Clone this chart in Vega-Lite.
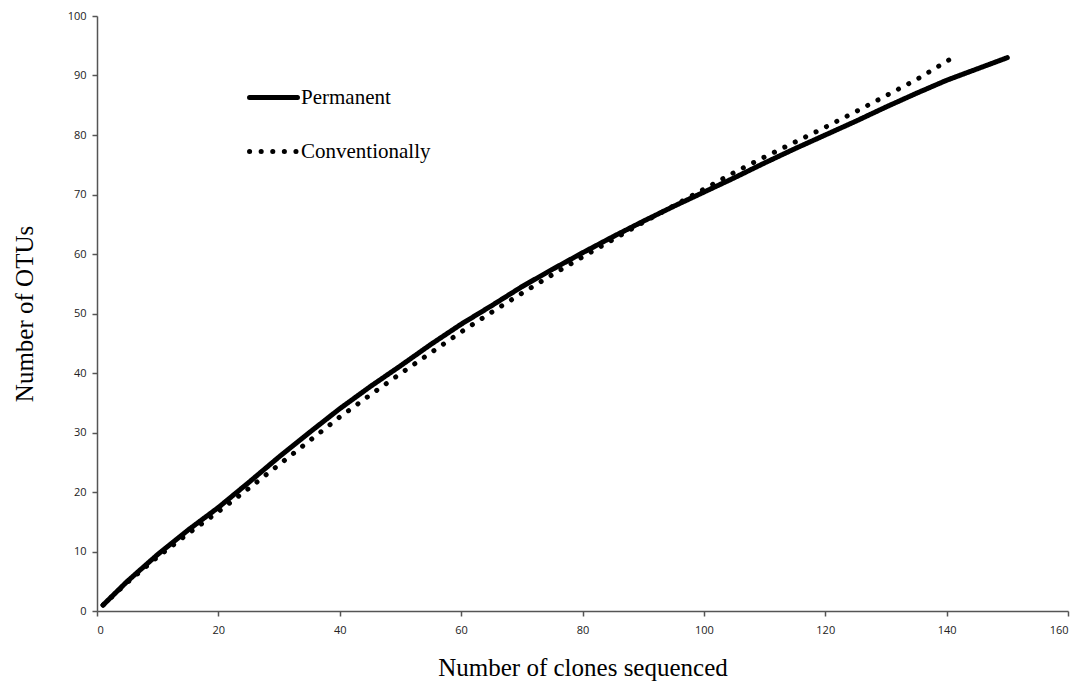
{
  "$schema": "https://vega.github.io/schema/vega-lite/v6.json",
  "width": 971,
  "height": 595,
  "autosize": {"type": "none"},
  "padding": {"left": 97, "top": 16, "right": 13, "bottom": 79},
  "background": "white",
  "config": {"view": {"stroke": null}},
  "data": {"values": [
    {"clones": 1, "otus": 1, "series": "Permanent"},
    {"clones": 5, "otus": 5, "series": "Permanent"},
    {"clones": 10, "otus": 9.5, "series": "Permanent"},
    {"clones": 15, "otus": 13.6, "series": "Permanent"},
    {"clones": 20, "otus": 17.4, "series": "Permanent"},
    {"clones": 25, "otus": 21.6, "series": "Permanent"},
    {"clones": 30, "otus": 25.9, "series": "Permanent"},
    {"clones": 35, "otus": 30, "series": "Permanent"},
    {"clones": 40, "otus": 34, "series": "Permanent"},
    {"clones": 45, "otus": 37.7, "series": "Permanent"},
    {"clones": 50, "otus": 41.2, "series": "Permanent"},
    {"clones": 55, "otus": 44.8, "series": "Permanent"},
    {"clones": 60, "otus": 48.2, "series": "Permanent"},
    {"clones": 65, "otus": 51.3, "series": "Permanent"},
    {"clones": 70, "otus": 54.5, "series": "Permanent"},
    {"clones": 75, "otus": 57.4, "series": "Permanent"},
    {"clones": 80, "otus": 60.2, "series": "Permanent"},
    {"clones": 85, "otus": 62.9, "series": "Permanent"},
    {"clones": 90, "otus": 65.5, "series": "Permanent"},
    {"clones": 95, "otus": 68, "series": "Permanent"},
    {"clones": 100, "otus": 70.4, "series": "Permanent"},
    {"clones": 105, "otus": 72.8, "series": "Permanent"},
    {"clones": 110, "otus": 75.3, "series": "Permanent"},
    {"clones": 115, "otus": 77.7, "series": "Permanent"},
    {"clones": 120, "otus": 80, "series": "Permanent"},
    {"clones": 125, "otus": 82.3, "series": "Permanent"},
    {"clones": 130, "otus": 84.7, "series": "Permanent"},
    {"clones": 135, "otus": 87, "series": "Permanent"},
    {"clones": 140, "otus": 89.2, "series": "Permanent"},
    {"clones": 145, "otus": 91.1, "series": "Permanent"},
    {"clones": 150, "otus": 93, "series": "Permanent"},
    {"clones": 1, "otus": 1, "series": "Conventionally"},
    {"clones": 5, "otus": 4.8, "series": "Conventionally"},
    {"clones": 10, "otus": 9.1, "series": "Conventionally"},
    {"clones": 15, "otus": 13, "series": "Conventionally"},
    {"clones": 20, "otus": 16.7, "series": "Conventionally"},
    {"clones": 25, "otus": 20.6, "series": "Conventionally"},
    {"clones": 30, "otus": 24.6, "series": "Conventionally"},
    {"clones": 35, "otus": 28.6, "series": "Conventionally"},
    {"clones": 40, "otus": 32.6, "series": "Conventionally"},
    {"clones": 45, "otus": 36.3, "series": "Conventionally"},
    {"clones": 50, "otus": 39.9, "series": "Conventionally"},
    {"clones": 55, "otus": 43.4, "series": "Conventionally"},
    {"clones": 60, "otus": 46.9, "series": "Conventionally"},
    {"clones": 65, "otus": 50.2, "series": "Conventionally"},
    {"clones": 70, "otus": 53.4, "series": "Conventionally"},
    {"clones": 75, "otus": 56.5, "series": "Conventionally"},
    {"clones": 80, "otus": 59.5, "series": "Conventionally"},
    {"clones": 85, "otus": 62.4, "series": "Conventionally"},
    {"clones": 90, "otus": 65.3, "series": "Conventionally"},
    {"clones": 95, "otus": 68.1, "series": "Conventionally"},
    {"clones": 100, "otus": 70.9, "series": "Conventionally"},
    {"clones": 105, "otus": 73.7, "series": "Conventionally"},
    {"clones": 110, "otus": 76.3, "series": "Conventionally"},
    {"clones": 115, "otus": 78.8, "series": "Conventionally"},
    {"clones": 120, "otus": 81.3, "series": "Conventionally"},
    {"clones": 125, "otus": 83.9, "series": "Conventionally"},
    {"clones": 130, "otus": 86.6, "series": "Conventionally"},
    {"clones": 135, "otus": 89.3, "series": "Conventionally"},
    {"clones": 141, "otus": 93, "series": "Conventionally"}
  ]},
  "mark": {"type": "line", "color": "black", "strokeWidth": 5, "strokeCap": "round", "strokeJoin": "round"},
  "encoding": {
    "x": {
      "field": "clones", "type": "quantitative",
      "scale": {"domain": [0, 160], "nice": false, "zero": true},
      "axis": {
        "values": [0, 20, 40, 60, 80, 100, 120, 140, 160],
        "grid": false,
        "title": "Number of clones sequenced",
        "titleFont": "Liberation Serif", "titleFontSize": 25, "titleFontWeight": "normal", "titleColor": "black",
        "titlePadding": 20,
        "labelFont": "Open Sans", "labelFontSize": 11, "labelColor": "#222", "labelPadding": 8,
        "domainColor": "#555", "domainWidth": 1.5, "tickColor": "#555", "tickWidth": 1.5, "tickSize": 5
      }
    },
    "y": {
      "field": "otus", "type": "quantitative",
      "scale": {"domain": [0, 100], "nice": false},
      "axis": {
        "values": [0, 10, 20, 30, 40, 50, 60, 70, 80, 90, 100],
        "grid": false,
        "title": "Number of OTUs",
        "titleFont": "Liberation Serif", "titleFontSize": 25, "titleFontWeight": "normal", "titleColor": "black",
        "titlePadding": 30,
        "labelFont": "Open Sans", "labelFontSize": 11, "labelColor": "#222", "labelPadding": 6,
        "domainColor": "#555", "domainWidth": 1.5, "tickColor": "#555", "tickWidth": 1.5, "tickSize": 5
      }
    },
    "strokeDash": {
      "field": "series", "type": "nominal",
      "scale": {"domain": ["Permanent", "Conventionally"], "range": [[1, 0], [0.1, 11.5]]},
      "legend": {
        "title": null,
        "orient": "none",
        "legendX": 150,
        "legendY": 55,
        "symbolType": "stroke",
        "symbolSize": 2300,
        "symbolStrokeWidth": 5,
        "symbolStrokeColor": "black",
        "labelFont": "Liberation Serif",
        "labelFontSize": 21,
        "labelColor": "black",
        "labelOffset": 1,
        "rowPadding": 17,
        "encode": {"symbols": {"update": {"strokeCap": {"value": "round"}}}}
      }
    }
  }
}
